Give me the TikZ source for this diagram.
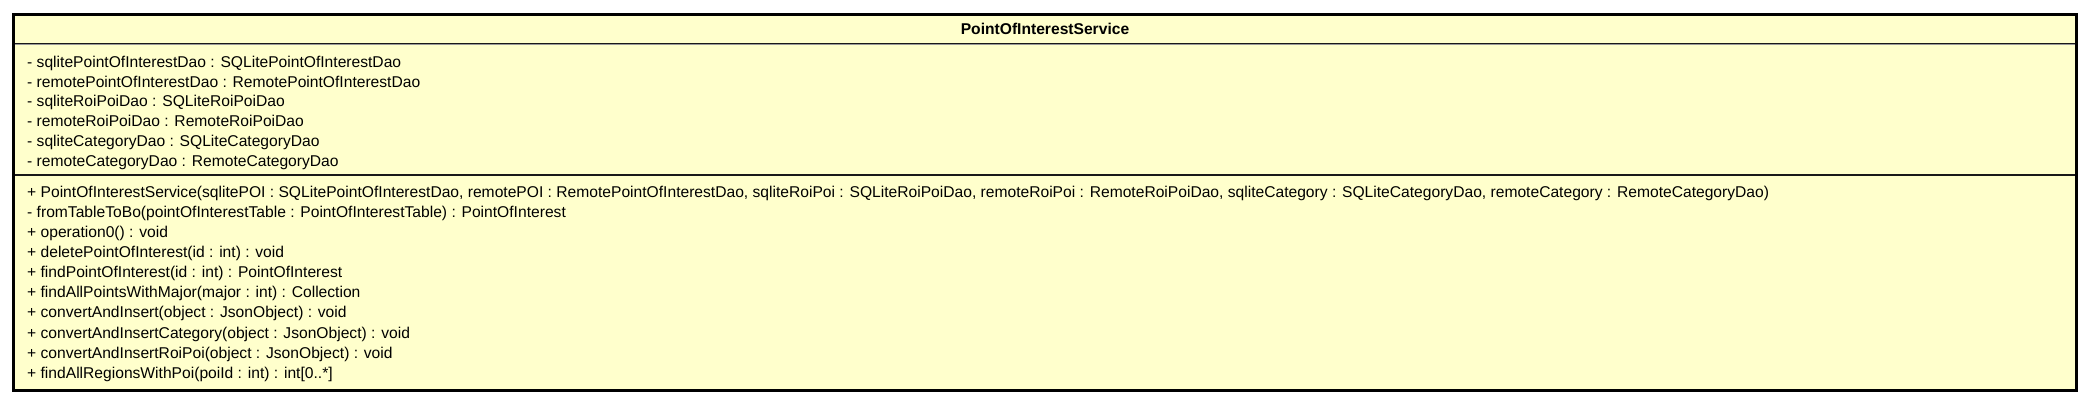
\documentclass[tikz,border=0pt]{standalone}
\usepackage{fontspec}
\setmainfont{Liberation Sans}
\definecolor{umlfill}{RGB}{255,255,204}
\newlength\measurelen
\newcommand\longop{+ PointOfInterestService(sqlitePOI : SQLitePointOfInterestDao, remotePOI : RemotePointOfInterestDao, sqliteRoiPoi : SQLiteRoiPoiDao, remoteRoiPoi : RemoteRoiPoiDao, sqliteCategory : SQLiteCategoryDao, remoteCategory : RemoteCategoryDao)}
\begin{document}
\settowidth\measurelen{\fontsize{10pt}{12pt}\selectfont\longop}%
\pgfmathsetmacro\fsz{1742/\measurelen*10}%
\begin{tikzpicture}[x=1pt,y=1pt]
\tikzset{
  member/.style={anchor=base west, inner sep=0pt, font=\fontsize{\fsz pt}{\fsz pt}\selectfont},
  classtitle/.style={anchor=base, inner sep=0pt, font=\fontsize{\fsz pt}{\fsz pt}\selectfont\bfseries},
  classbox/.style={line width=3pt, fill=umlfill, draw=black},
  sepline/.style={line width=1.2pt, draw=black!90},
}
\useasboundingbox (0,0) rectangle (2090,405);
\draw[classbox] (13.5,390.5) coordinate (boxtl) rectangle (2076.5,14.5) coordinate (boxbr);
\draw[sepline] (15,361.5) -- (2075,361.5);
\draw[line width=1pt, draw=black!40] (15,360.3) -- (2075,360.3);
\draw[sepline] (15,230) -- (2075,230);
\node[classtitle] (title) at (1045,370.5) {PointOfInterestService};
% attributes
\foreach \t [count=\i from 0] in {
  {- sqlitePointOfInterestDao : SQLitePointOfInterestDao},
  {- remotePointOfInterestDao : RemotePointOfInterestDao},
  {- sqliteRoiPoiDao : SQLiteRoiPoiDao},
  {- remoteRoiPoiDao : RemoteRoiPoiDao},
  {- sqliteCategoryDao : SQLiteCategoryDao},
  {- remoteCategoryDao : RemoteCategoryDao}}
  \node[member] (attr\i) at (27, 405-62-5.3-19.85*\i) {\t};
% operations
\foreach \t [count=\i from 0] in {
  {\longop},
  {- fromTableToBo(pointOfInterestTable : PointOfInterestTable) : PointOfInterest},
  {+ operation0() : void},
  {+ deletePointOfInterest(id : int) : void},
  {+ findPointOfInterest(id : int) : PointOfInterest},
  {+ findAllPointsWithMajor(major : int) : Collection},
  {+ convertAndInsert(object : JsonObject) : void},
  {+ convertAndInsertCategory(object : JsonObject) : void},
  {+ convertAndInsertRoiPoi(object : JsonObject) : void},
  {+ findAllRegionsWithPoi(poiId : int) : int[0..*]}}
  \node[member] (op\i) at (27, 405-192-5.3-20.1*\i) {\t};
\end{tikzpicture}
\end{document}
